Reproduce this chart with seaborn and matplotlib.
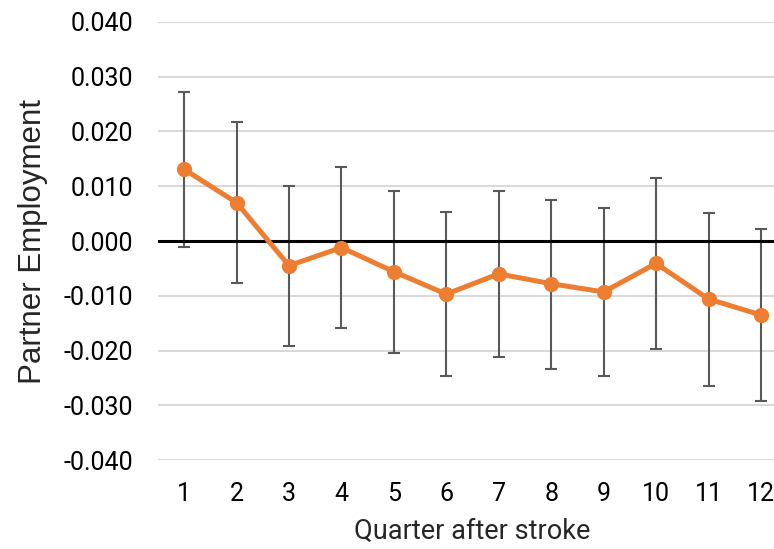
import matplotlib

matplotlib.use("Agg")
import matplotlib.pyplot as plt
import numpy as np
import pandas as pd
import seaborn as sns

# Values
quarters = [1, 2, 3, 4, 5, 6, 7, 8, 9, 10, 11, 12]
estimate = [0.0131, 0.0070, -0.0045, -0.0012, -0.0056, -0.0097,
            -0.0060, -0.0078, -0.0093, -0.0041, -0.0106, -0.0135]
ci_upper = [0.0273, 0.0217, 0.0101, 0.0135, 0.0092, 0.0053,
            0.0091, 0.0075, 0.0061, 0.0115, 0.0051, 0.0022]
ci_lower = [-0.0011, -0.0077, -0.0191, -0.0158, -0.0205, -0.0246,
            -0.0212, -0.0233, -0.0247, -0.0197, -0.0264, -0.0292]
y_ticks = [-0.04, -0.03, -0.02, -0.01, 0.0, 0.01, 0.02, 0.03, 0.04]

ORANGE = "#ED7D31"
GREY = "#595959"

sns.set_theme(style="white")
plt.rcParams["font.family"] = ["Roboto", "DejaVu Sans"]

df = pd.DataFrame({"quarter": quarters, "estimate": estimate,
                   "lower": ci_lower, "upper": ci_upper})

fig = plt.figure(figsize=(7.74, 5.49), dpi=100)
ax = fig.add_axes([0.204, 0.162, 0.813, 0.798])

for y in y_ticks:
    if y != 0:
        ax.axhline(y, color="#D9D9D9", lw=1.5, zorder=0)

ax.errorbar(df["quarter"], df["estimate"],
            yerr=[df["estimate"] - df["lower"], df["upper"] - df["estimate"]],
            fmt="none", ecolor=GREY, elinewidth=1.5, capsize=4,
            capthick=1.5, zorder=1)
ax.axhline(0, color="black", lw=2.2, zorder=2)

sns.lineplot(data=df, x="quarter", y="estimate", color=ORANGE, lw=3.6,
             marker="o", markersize=11, markeredgewidth=0, ax=ax, zorder=3)

ax.set_xlim(0.5, 12.5)
ax.set_ylim(-0.04, 0.04)
ax.set_xticks(quarters)
ax.set_yticks(y_ticks)
ax.set_yticklabels([f"{v:.3f}" for v in y_ticks])
ax.tick_params(axis="both", length=0, labelsize=18, colors="black")
ax.tick_params(axis="x", pad=16)
ax.tick_params(axis="y", pad=18)
for spine in ax.spines.values():
    spine.set_visible(False)

ax.set_xlabel("Quarter after stroke", fontsize=19.5)
ax.xaxis.set_label_coords(0.5, -0.132)
ax.set_ylabel("Partner Employment", fontsize=22.5, family="Liberation Sans")
ax.yaxis.set_label_coords(-0.175, 0.5)

fig.savefig("out.png", dpi=100)
